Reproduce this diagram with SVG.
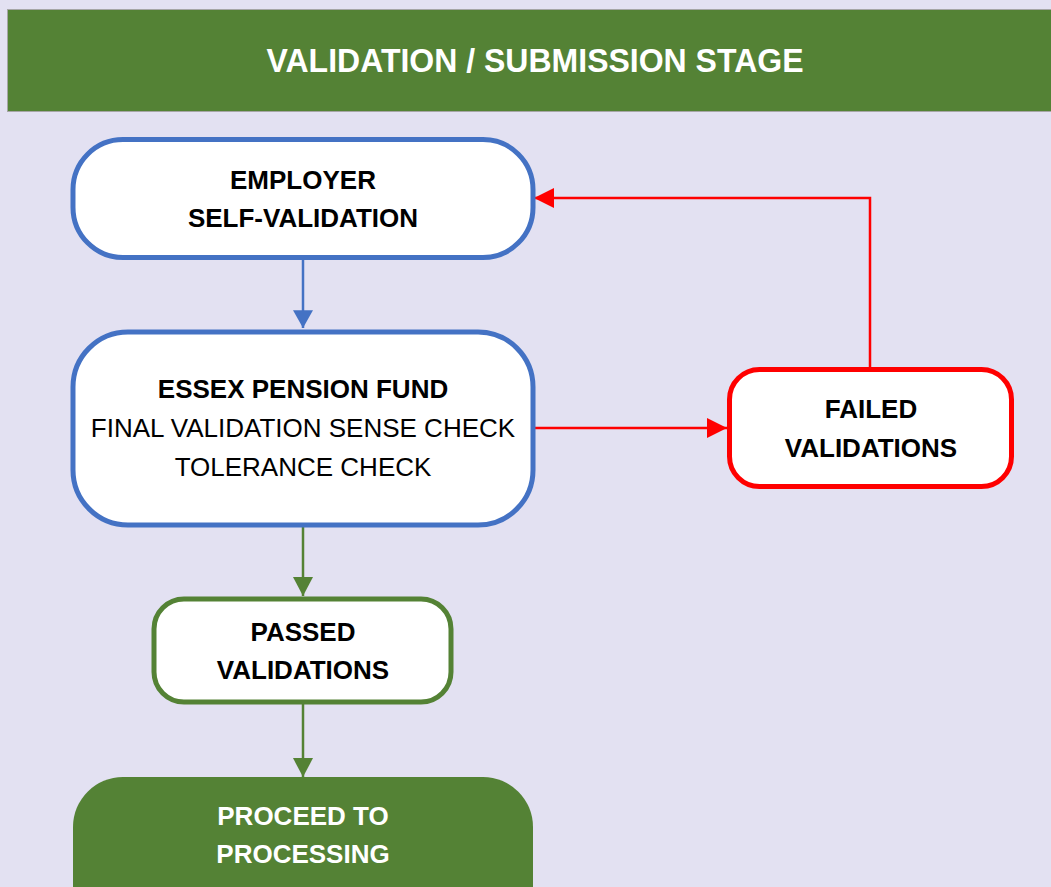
<svg xmlns="http://www.w3.org/2000/svg" width="1051" height="887" viewBox="0 0 1051 887">
<style>
.t{font-family:"Liberation Sans",Arial,sans-serif;font-size:26px;text-anchor:middle;fill:#000}
.b{font-weight:bold}
.w{fill:#fff}
.h{font-size:34px}
.blue{fill:#fff;stroke:#4472C4;stroke-width:5}
.red{fill:#fff;stroke:#FF0000;stroke-width:5}
.grn{fill:#fff;stroke:#548235;stroke-width:5}
.cb{stroke:#4472C4;stroke-width:2.5;fill:none}
.cr{stroke:#FF0000;stroke-width:2.5;fill:none}
.cg{stroke:#548235;stroke-width:2.5;fill:none}
</style>
<defs>
<marker id="ab" markerUnits="userSpaceOnUse" markerWidth="20" markerHeight="20" viewBox="0 0 16 18" refX="16" refY="9" orient="auto"><path d="M0,0 L16,9 L0,18 Z" fill="#4472C4"/></marker>
<marker id="ar" markerUnits="userSpaceOnUse" markerWidth="20" markerHeight="20" viewBox="0 0 18 18" refX="18" refY="9" orient="auto"><path d="M0,0 L18,9 L0,18 Z" fill="#FF0000"/></marker>
<marker id="ag" markerUnits="userSpaceOnUse" markerWidth="20" markerHeight="20" viewBox="0 0 17 18" refX="17" refY="9" orient="auto"><path d="M0,0 L17,9 L0,18 Z" fill="#548235"/></marker>
</defs>
<rect x="0" y="0" width="1051" height="887" fill="#E3E1F2"/>
<g id="header">
<rect x="7.5" y="9.5" width="1050" height="102" fill="#548235" stroke="#A6A6A6" stroke-width="1"/>
<text class="t b w h" x="535" y="72" textLength="537" lengthAdjust="spacingAndGlyphs">VALIDATION / SUBMISSION STAGE</text>
</g>
<g id="connectors">
<path class="cb" d="M303,258 V328" marker-end="url(#ab)"/>
<path class="cr" d="M534,428 H727" marker-end="url(#ar)"/>
<path class="cr" d="M870,368 V198 H534" marker-end="url(#ar)"/>
<path class="cg" d="M303,526 V596" marker-end="url(#ag)"/>
<path class="cg" d="M303,703 V777" marker-end="url(#ag)"/>
</g>
<g id="employer">
<rect class="blue" x="73" y="139.5" width="460" height="118" rx="50"/>
<text class="t b" x="303" y="189">EMPLOYER</text>
<text class="t b" x="303" y="227">SELF-VALIDATION</text>
</g>
<g id="essex">
<rect class="blue" x="73" y="332" width="460" height="193" rx="55"/>
<text class="t b" x="303" y="398">ESSEX PENSION FUND</text>
<text class="t" x="303" y="437">FINAL VALIDATION SENSE CHECK</text>
<text class="t" x="303" y="476">TOLERANCE CHECK</text>
</g>
<g id="failed">
<rect class="red" x="729.5" y="369.5" width="282" height="117" rx="30"/>
<text class="t b" x="871" y="418">FAILED</text>
<text class="t b" x="871" y="457">VALIDATIONS</text>
</g>
<g id="passed">
<rect class="grn" x="154" y="599" width="297" height="103" rx="30"/>
<text class="t b" x="303" y="641">PASSED</text>
<text class="t b" x="303" y="679">VALIDATIONS</text>
</g>
<g id="proceed">
<rect x="73" y="777" width="460" height="160" rx="50" fill="#548235"/>
<text class="t b w" x="303" y="825">PROCEED TO</text>
<text class="t b w" x="303" y="863">PROCESSING</text>
</g>
</svg>
